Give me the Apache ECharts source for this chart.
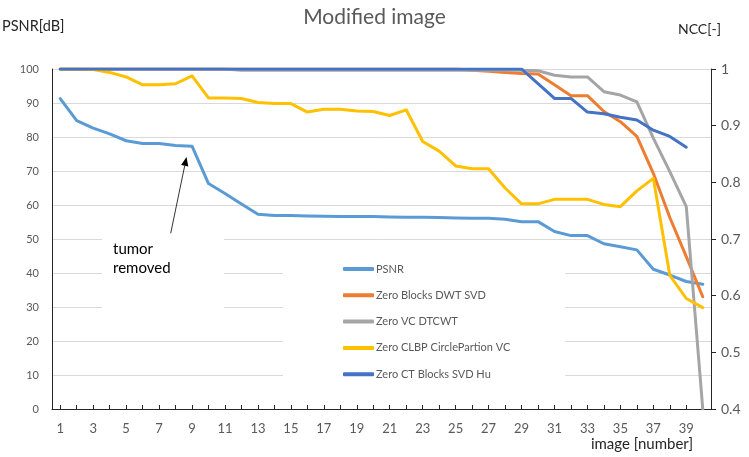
<!DOCTYPE html>
<html>
<head>
<meta charset="utf-8">
<script src="https://cdn.jsdelivr.net/npm/echarts@6/dist/echarts.min.js"></script>
<style>html,body{margin:0;padding:0;background:#fff;}#c{width:749px;height:457px;}</style>
</head>
<body>
<div id="c"></div>
<script>
var categories = [];
for (var i = 1; i <= 40; i++) categories.push(String(i));

var psnr = [91.3, 84.8, 82.6, 80.9, 78.9, 78.1, 78.1, 77.5, 77.3, 66.3,
            63.4, 60.3, 57.3, 56.9, 56.9, 56.8, 56.7, 56.6, 56.6, 56.6,
            56.5, 56.4, 56.4, 56.3, 56.2, 56.1, 56.1, 55.8, 55.1, 55.1,
            52.2, 51.0, 51.0, 48.6, 47.7, 46.8, 41.1, 39.4, 37.5, 36.7];

var zeroBlocksDwtSvd = [1.0, 1.0, 1.0, 1.0, 1.0, 1.0, 1.0, 1.0, 1.0, 1.0,
            1.0, 1.0, 1.0, 1.0, 1.0, 1.0, 1.0, 1.0, 1.0, 1.0,
            1.0, 1.0, 1.0, 1.0, 1.0, 0.998, 0.996, 0.994, 0.992, 0.991,
            0.972, 0.953, 0.953, 0.925, 0.907, 0.881, 0.816, 0.738, 0.669, 0.598];

var zeroVcDtcwt = [1.0, 1.0, 1.0, 1.0, 1.0, 1.0, 1.0, 1.0, 1.0, 1.0,
            1.0, 0.998, 0.998, 0.998, 0.998, 0.998, 0.998, 0.998, 0.998, 0.998,
            0.998, 0.998, 0.998, 0.998, 0.998, 0.998, 0.998, 0.998, 0.998, 0.997,
            0.989, 0.986, 0.986, 0.960, 0.954, 0.942, 0.878, 0.819, 0.757, 0.400];

var zeroClbp = [1.0, 1.0, 0.999, 0.994, 0.986, 0.972, 0.972, 0.974, 0.988, 0.949,
            0.949, 0.948, 0.941, 0.939, 0.939, 0.924, 0.929, 0.929, 0.926, 0.925,
            0.918, 0.928, 0.872, 0.855, 0.829, 0.824, 0.824, 0.790, 0.762, 0.762,
            0.770, 0.770, 0.770, 0.761, 0.757, 0.785, 0.807, 0.636, 0.595, 0.579];

var zeroCtBlocks = [1.0, 1.0, 1.0, 1.0, 1.0, 1.0, 1.0, 1.0, 1.0, 1.0,
            1.0, 1.0, 1.0, 1.0, 1.0, 1.0, 1.0, 1.0, 1.0, 1.0,
            1.0, 1.0, 1.0, 1.0, 1.0, 1.0, 1.0, 1.0, 1.0, 0.974,
            0.948, 0.948, 0.924, 0.921, 0.915, 0.910, 0.892, 0.881, 0.862, null];

var seriesNames = ['PSNR', 'Zero Blocks DWT SVD', 'Zero VC DTCWT', 'Zero CLBP CirclePartion VC', 'Zero CT Blocks SVD Hu'];
var seriesColors = ['#5B9BD5', '#ED7D31', '#A5A5A5', '#FFC000', '#4472C4'];
var seriesData = [psnr, zeroBlocksDwtSvd, zeroVcDtcwt, zeroClbp, zeroCtBlocks];
var seriesAxis = [0, 1, 1, 1, 1];

var FONT = 'Lato, "Open Sans", sans-serif';
var chart = echarts.init(document.getElementById('c'));

var series = seriesNames.map(function (n, k) {
  return {
    name: n, type: 'line', yAxisIndex: seriesAxis[k], data: seriesData[k],
    symbol: 'none', showSymbol: false, smooth: false,
    lineStyle: { width: 3, color: seriesColors[k], cap: 'round', join: 'round' },
    itemStyle: { color: seriesColors[k] },
    z: 2 + k * 0.01
  };
});

chart.setOption({
  animation: false,
  backgroundColor: '#fff',
  textStyle: { fontFamily: FONT },
  title: {
    text: 'Modified image', left: 'center', top: 2,
    textStyle: { fontFamily: FONT, fontSize: 21, fontWeight: 'normal', color: '#595959' }
  },
  grid: { left: 52, right: 38, top: 69, bottom: 48, containLabel: false },
  legend: {
    orient: 'vertical', left: 283, top: 245,
    padding: [17, 55, 19, 60],
    backgroundColor: '#fff',
    itemGap: 12.3, itemWidth: 31, itemHeight: 4,
    icon: 'roundRect',
    data: seriesNames,
    textStyle: { fontFamily: FONT, fontSize: 11, color: '#595959', lineHeight: 14, padding: [0, 0, 0, -3] }
  },
  xAxis: {
    type: 'category', data: categories, boundaryGap: true,
    axisLine: { lineStyle: { color: '#262626', width: 1 } },
    axisTick: { show: true, inside: true, length: 4, alignWithLabel: true, interval: 0, lineStyle: { color: '#262626' } },
    axisLabel: { interval: 1, color: '#595959', fontFamily: FONT, fontSize: 13, margin: 13 },
    splitLine: { show: false }
  },
  yAxis: [
    {
      type: 'value', min: 0, max: 100, interval: 10, position: 'left',
      axisLine: { show: true, lineStyle: { color: '#262626', width: 1 } },
      axisTick: { show: false },
      axisLabel: { color: '#595959', fontFamily: FONT, fontSize: 11, margin: 13 },
      splitLine: { show: true, lineStyle: { color: '#D9D9D9', width: 1 } }
    },
    {
      type: 'value', min: 0.4, max: 1, interval: 0.1, position: 'right',
      axisLine: { show: true, lineStyle: { color: '#262626', width: 1 } },
      axisTick: { show: true, inside: false, length: 5, lineStyle: { color: '#262626' } },
      axisLabel: { color: '#595959', fontFamily: FONT, fontSize: 14, margin: 10,
        formatter: function (v) { return String(Math.round(v * 10) / 10); } },
      splitLine: { show: false }
    }
  ],
  graphic: [
    { type: 'rect', z: 1, shape: { x: 102, y: 226, width: 122, height: 99 }, style: { fill: '#fff' } },
    { type: 'text', z: 5, left: 113, top: 240,
      style: { text: 'tumor\nremoved', font: '15px ' + FONT, fill: '#000', lineHeight: 19 } },
    { type: 'line', z: 5, shape: { x1: 170.7, y1: 233.3, x2: 184.7, y2: 165.8 }, style: { stroke: '#000', lineWidth: 0.8 } },
    { type: 'polygon', z: 5, shape: { points: [[186.5, 157], [188.3, 166.5], [181.1, 165.1]] }, style: { fill: '#000' } },
    { type: 'text', z: 5, left: 2, top: 19,
      style: { text: 'PSNR[dB]', font: '14.5px ' + FONT, fill: '#262626' } },
    { type: 'text', z: 5, left: 678, top: 22,
      style: { text: 'NCC[-]', font: '14px ' + FONT, fill: '#262626' } },
    { type: 'text', z: 5, right: 56, top: 437,
      style: { text: 'image [number]', font: '15px ' + FONT, fill: '#262626' } }
  ],
  series: series
});
</script>
</body>
</html>
